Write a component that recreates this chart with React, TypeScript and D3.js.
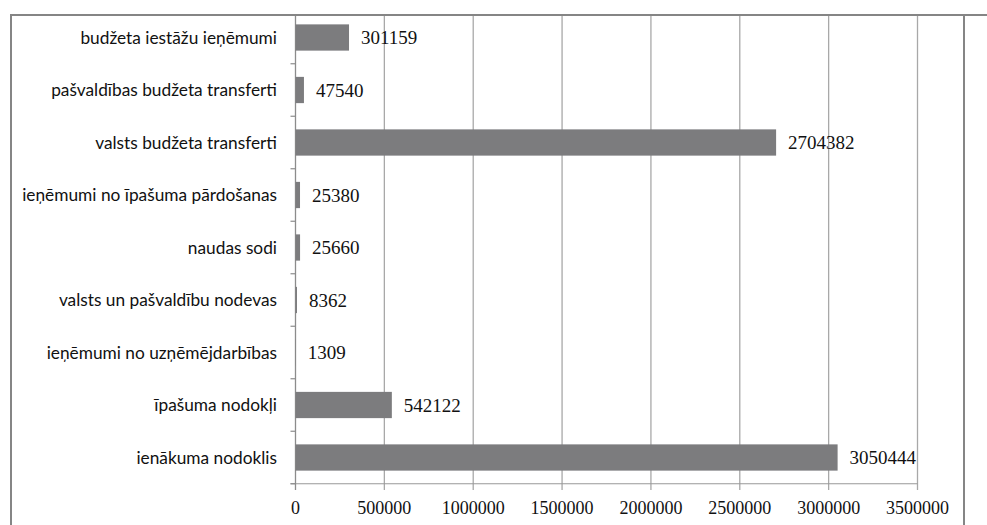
import React from "react";
import * as d3 from "d3";

const categories = [
  "budžeta iestāžu ieņēmumi",
  "pašvaldības budžeta transferti",
  "valsts budžeta transferti",
  "ieņēmumi no īpašuma pārdošanas",
  "naudas sodi",
  "valsts un pašvaldību nodevas",
  "ieņēmumi no uzņēmējdarbības",
  "īpašuma nodokļi",
  "ienākuma nodoklis",
];
const values = [301159, 47540, 2704382, 25380, 25660, 8362, 1309, 542122, 3050444];
const xTicks = [0, 500000, 1000000, 1500000, 2000000, 2500000, 3000000, 3500000];

const W = 987;
const H = 525;
const plotLeft = 295.5;
const plotRight = 917.5;
const plotTop = 11.25;
const plotBottom = 483.75;

export default function App() {
  const x = d3.scaleLinear().domain([0, 3500000]).range([plotLeft, plotRight]);
  const y = d3
    .scaleBand<string>()
    .domain(categories)
    .range([plotTop, plotBottom])
    .paddingInner(0.5)
    .paddingOuter(0.25);
  const step = y.step();
  const boundaries = d3
    .range(categories.length + 1)
    .map((i) => plotTop + i * step)
    .filter((b) => b > 16);

  return (
    <svg
      width={W}
      height={H}
      style={{ position: "absolute", left: 0, top: 0, background: "#fff" }}
    >
      {/* gridlines */}
      {xTicks.slice(1).map((t) => (
        <line
          key={"g" + t}
          x1={x(t)}
          x2={x(t)}
          y1={15}
          y2={490}
          stroke="#a8a8a8"
          strokeWidth={1.3}
        />
      ))}
      {/* x axis line */}
      <line x1={plotLeft - 5} x2={plotRight} y1={plotBottom} y2={plotBottom} stroke="#999" strokeWidth={1.2} />
      {/* y axis line */}
      <line x1={plotLeft} x2={plotLeft} y1={15} y2={490} stroke="#8c8c8c" strokeWidth={1.3} />
      {/* y ticks */}
      {boundaries.map((b, i) => (
        <line key={"yt" + i} x1={plotLeft - 5} x2={plotLeft} y1={b} y2={b} stroke="#8c8c8c" strokeWidth={1.2} />
      ))}
      {/* bars */}
      {categories.map((c, i) => (
        <rect
          key={"b" + i}
          x={x(0)}
          y={y(c)!}
          width={x(values[i]) - x(0)}
          height={y.bandwidth()}
          fill="#7c7c7e"
        />
      ))}
      {/* value labels */}
      {categories.map((c, i) => (
        <text
          key={"v" + i}
          x={x(values[i]) + 12}
          y={y(c)! + y.bandwidth() / 2}
          dy="0.35em"
          fontFamily="'Liberation Serif', 'Times New Roman', serif"
          fontSize={19}
          fill="#111"
        >
          {values[i]}
        </text>
      ))}
      {/* category labels */}
      {categories.map((c, i) => (
        <text
          key={"c" + i}
          x={277}
          y={y(c)! + y.bandwidth() / 2}
          dy="0.35em"
          textAnchor="end"
          fontFamily="Lato, 'Open Sans', sans-serif"
          fontSize={17.3}
          fill="#111"
        >
          {c}
        </text>
      ))}
      {/* x tick labels */}
      {xTicks.map((t) => (
        <text
          key={"xt" + t}
          x={x(t)}
          y={514}
          textAnchor="middle"
          fontFamily="'Liberation Serif', 'Times New Roman', serif"
          fontSize={18}
          fill="#111"
        >
          {t}
        </text>
      ))}
      {/* outer border */}
      <line x1={10} x2={W} y1={15} y2={15} stroke="#858585" strokeWidth={2} />
      <line x1={11} x2={11} y1={14} y2={H} stroke="#858585" strokeWidth={2} />
      <line x1={964} x2={964} y1={14} y2={H} stroke="#858585" strokeWidth={2} />
    </svg>
  );
}
